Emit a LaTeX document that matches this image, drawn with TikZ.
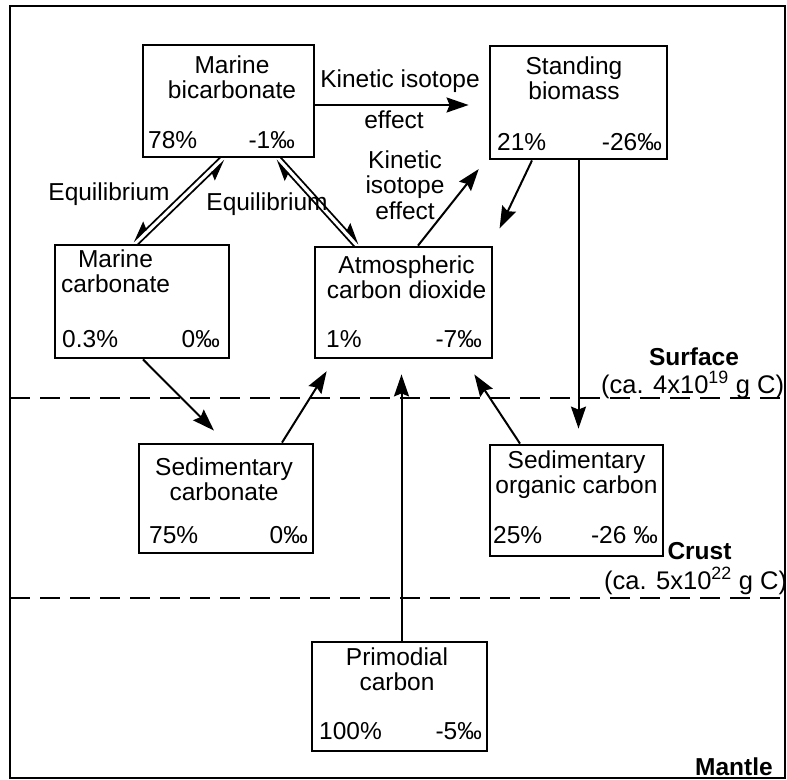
\documentclass[tikz,border=0pt]{standalone}
\usepackage{fontspec}
\setmainfont{Liberation Sans}
\usetikzlibrary{arrows.meta,calc}

\begin{document}
\begin{tikzpicture}[x=1pt,y=-1pt,
  every node/.style={font=\fontsize{24.5}{25.5}\selectfont, inner sep=0pt},
  pool/.style={draw, line width=2.8pt, rectangle},
  ttl/.style={align=center, anchor=north},
  lft/.style={anchor=base west},
  rgt/.style={anchor=base east},
  lbl/.style={anchor=base},
  tag/.style={anchor=base, font=\fontsize{24.5}{25.5}\selectfont\bfseries},
  mass/.style={anchor=base west, font=\fontsize{25.5}{26}\selectfont},
  flow/.style={line width=2pt, -{Stealth[length=22pt,width=15pt,inset=3pt]}},
  harpL/.style={line width=1.7pt, -{Stealth[harpoon,length=19pt,width=15pt,inset=3pt]}},
  harpR/.style={line width=1.7pt, -{Stealth[harpoon,swap,length=19pt,width=15pt,inset=3pt]}},
  layer/.style={line width=2.8pt, dash pattern=on 20pt off 10pt}]

\useasboundingbox (0,0) rectangle (787,779);

% outer frame and layer boundaries
\draw[line width=2.6pt] (10,6) rectangle (785,778);
\coordinate (s1) at (10,398);
\coordinate (s2) at (785,398);
\coordinate (c1) at (10,598);
\coordinate (c2) at (785,598);
\draw[layer] (s1) -- (s2);
\draw[layer] (c1) -- (c2);

% reservoirs
\node[pool, minimum width=171pt, minimum height=112pt] (mb) at (228.5,101) {};
\node[pool, minimum width=177pt, minimum height=113pt] (sb) at (578.5,102.5) {};
\node[pool, minimum width=174pt, minimum height=113pt] (mc) at (142,301.5) {};
\node[pool, minimum width=177pt, minimum height=111pt] (ac) at (403.5,302.5) {};
\node[pool, minimum width=174pt, minimum height=109pt] (sc) at (226,498.5) {};
\node[pool, minimum width=173pt, minimum height=111pt] (so) at (576.5,500.5) {};
\node[pool, minimum width=175pt, minimum height=109pt] (pc) at (399.5,696.5) {};

% reservoir names
\node[ttl] (mbt) at (232,55.4) {Marine\\bicarbonate};
\node[ttl] (sbt) at (574,56.4) {Standing\\biomass};
\node[ttl] (mct) at (115.5,249.4) {Marine\\carbonate};
\node[ttl] (act) at (406.5,255.4) {Atmospheric\\carbon dioxide};
\node[ttl] (sct) at (224,457.4) {Sedimentary\\carbonate};
\node[ttl] (sot) at (576.5,450.4) {Sedimentary\\organic carbon};
\node[ttl] (pct) at (397,647.4) {Primodial\\carbon};

% share of carbon and isotope ratio
\node[lft] (mbp) at (148,148) {78\%};
\node[rgt] (mbd) at (295,148) {-1‰};
\node[lft] (sbp) at (497,150) {21\%};
\node[rgt] (sbd) at (662,150) {-26‰};
\node[lft] (mcp) at (62,347) {0.3\%};
\node[rgt] (mcd) at (220,347) {0‰};
\node[lft] (acp) at (326,347) {1\%};
\node[rgt] (acd) at (482,347) {-7‰};
\node[lft] (scp) at (149,543) {75\%};
\node[rgt] (scd) at (308,543) {0‰};
\node[lft] (sop) at (493,543) {25\%};
\node[rgt] (sod) at (658,543) {-26 ‰};
\node[lft] (pcp) at (319,739) {100\%};
\node[rgt] (pcd) at (482,739) {-5‰};

% fluxes
\draw[flow, shorten >=20pt] ([yshift=-4pt]mb.east) -- ([yshift=-2.5pt]sb.west);
\draw[flow, shorten >=11pt] ([xshift=14.5pt]ac.north) -- ([xshift=-3pt]sb.south west);
\draw[flow, shorten >=19pt] ([xshift=-46.5pt]sb.south) -- ([xshift=-2pt]ac.north east);
\draw[flow, shorten >=15pt] (sb.south) -- (sb.south |- so.north);
\draw[flow, shorten >=17pt] ([xshift=1pt]mc.south) -- (sc.north);
\draw[flow, shorten >=14pt] ([xshift=56pt]sc.north) -- ([xshift=20.5pt]ac.south west);
\draw[flow, shorten >=18pt] ([xshift=-56.5pt]so.north) -- ([xshift=-29pt]ac.south east);
\draw[flow, shorten >=15pt] ([xshift=2pt]pc.north) -- ([xshift=2pt]pc.north |- ac.south);

% equilibrium exchanges
\coordinate (e1a) at ([xshift=-5.5pt]mb.south);
\coordinate (e1b) at ([xshift=-7pt]mc.north);
\coordinate (e2a) at ([xshift=49.5pt]mb.south);
\coordinate (e2b) at ([xshift=-46.5pt]ac.north);
\draw[harpR] ($(e1b)!2.6pt!-90:(e1a)$) -- ($(e1a)!2.6pt!90:(e1b)$);
\draw[harpR] ($(e1a)!2.6pt!-90:(e1b)$) -- ($(e1b)!2.6pt!90:(e1a)$);
\draw[harpL] ($(e2b)!2.6pt!90:(e2a)$) -- ($(e2a)!2.6pt!-90:(e2b)$);
\draw[harpL] ($(e2a)!2.6pt!90:(e2b)$) -- ($(e2b)!2.6pt!-90:(e2a)$);

% flux labels
\node[lbl] (k1) at (400,87) {Kinetic isotope};
\node[lbl] (k2) at (394,128) {effect};
\node[ttl] (k3) at (405,150.4) {Kinetic\\isotope\\effect};
\node[lbl] (q1) at (109,200) {Equilibrium};
\node[lbl] (q2) at (267,210) {Equilibrium};

% layer labels
\node[tag] (surf) at (694,365) {Surface};
\node[mass] (surfm) at (601,393) {(ca. 4x10\textsuperscript{19} g C)};
\node[tag] (crust) at (699.5,559) {Crust};
\node[mass] (crustm) at (604,589) {(ca. 5x10\textsuperscript{22} g C)};
\node[tag] (mant) at (734,775) {Mantle};
\end{tikzpicture}
\end{document}
